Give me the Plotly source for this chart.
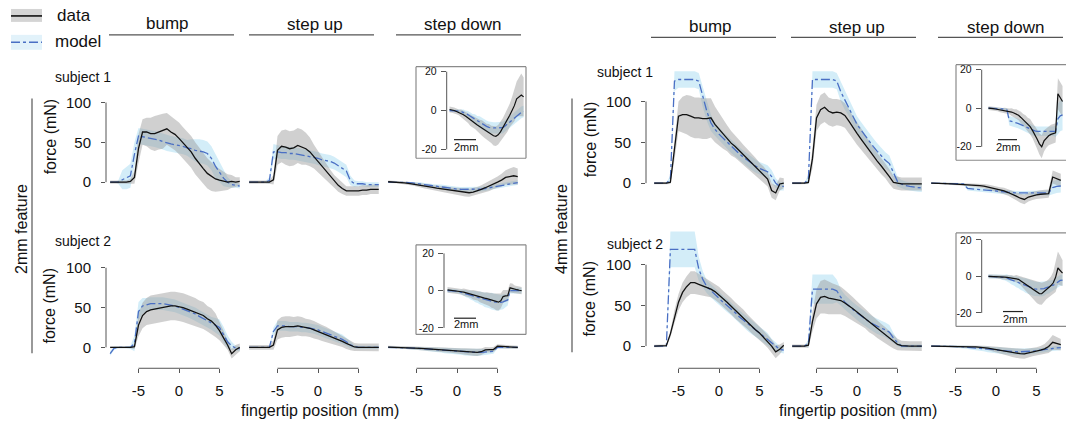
import plotly.graph_objects as go

W, H = 1075, 425

# ---------------- data ----------------
X_L = [-8.5, -8.0, -7.5, -7.0, -6.5, -6.0, -5.5, -5.0, -4.5, -4.0, -3.5, -3.0, -2.5, -2.0, -1.5, -1.0, -0.5,
       0.0, 0.5, 1.0, 1.5, 2.0, 2.5, 3.0, 3.5, 4.0, 4.5, 5.0, 5.5, 6.0, 6.5, 7.0, 7.5]
X_R = [-8.0, -7.5, -7.0, -6.5, -6.0, -5.5, -5.0, -4.5, -4.0, -3.5, -3.0, -2.5, -2.0, -1.5, -1.0, -0.5, 0.0,
       0.5, 1.0, 1.5, 2.0, 2.5, 3.0, 3.5, 4.0, 4.5, 5.0, 5.5, 6.0, 6.5, 7.0, 7.5, 8.0]

HEADERS = ["bump", "step up", "step down"]
FEATURES = ["2mm feature", "4mm feature"]
SUBJECTS = ["subject 1", "subject 2"]
X_TICKS = [-5, 0, 5]
X_TICK_TEXT = ["-5", "0", "5"]
Y_TICKS = [0, 50, 100]
INSET_TICKS = [-20, 0, 20]
INSET_TICK_TEXT = ["-20", "0", "20"]

# 2mm feature, subject 1
S1_2_BUMP = [0, 0, 0, 0, 0, 1, 6, 42, 63, 63, 61, 61, 63, 64, 67, 63, 60, 55, 49, 44, 38, 30, 23, 17, 11, 7, 4, 2.5, 1, 0, 1, 0, 1]
S1_2_BUMP_SD = [2, 2, 2, 2, 2, 3, 8, 18, 16, 18, 20, 22, 22, 22, 20, 20, 20, 20, 20, 20, 20, 20, 20, 19, 19, 18, 16, 14, 12, 10, 8, 6, 5]
S1_2_BUMP_M = [0, 0, 0, 3, 5, 8, 35, 58, 57, 56, 55, 54, 53, 51, 49, 48, 47, 46, 45, 43, 42, 40, 39, 38, 36, 30, 20, 12, 5, 0, -3, -4, -5]
S1_2_BUMP_MSD = [0, 0, 2, 12, 14, 15, 15, 10, 10, 10, 10, 10, 10, 10, 10, 10, 10, 10, 10, 10, 12, 14, 15, 15, 15, 15, 15, 12, 10, 6, 4, 3, 3]

S1_2_UP = [0, 0, 0, 0, 0, 0, 3, 40, 45, 44, 42, 43, 46, 44, 42, 38, 32, 26, 19, 13, 7, 1, -4, -8, -11, -11, -11, -11, -10, -10, -9, -9, -9]
S1_2_UP_SD = [2, 2, 2, 2, 2, 2, 6, 18, 20, 22, 22, 22, 22, 22, 20, 18, 15, 13, 12, 10, 9, 8, 8, 7, 6, 6, 6, 6, 6, 6, 6, 6, 6]
S1_2_UP_M = [0, 0, 0, 0, 0, 2, 38, 38, 37, 37, 36, 36, 35, 34, 33, 32, 31, 30, 28, 27, 26, 24, 21, 18, 14, 2, -2, -2, -2, -3, -3, -3, -3]
S1_2_UP_MSD = [0, 0, 0, 0, 1, 4, 10, 8, 8, 8, 8, 8, 8, 8, 8, 8, 8, 8, 8, 8, 8, 8, 8, 8, 8, 6, 4, 3, 3, 3, 3, 3, 3]

S1_2_DOWN = [0.5, 0.3, 0, -0.5, -1, -1.5, -2.2, -3, -4, -5, -5.8, -6.6, -7.5, -8.3, -9, -10, -10.8, -11.5, -12.3, -13, -13.3,
             -12.5, -11, -9, -7, -5, -2.5, 0, 2.5, 6, 7, 8, 7]
S1_2_DOWN_SD = [1.5, 1.5, 1.5, 1.5, 1.5, 2, 2, 2.5, 2.5, 3, 3, 3, 3.5, 3.5, 4, 4, 4, 4.5, 4.5, 5, 5, 5, 5, 5, 5.5, 6, 6, 7, 8, 9, 10, 11, 10]
S1_2_DOWN_M = [0, 0, 0, 0, -0.3, -0.5, -1, -1.5, -2.2, -3, -3.8, -4.5, -5.3, -6, -6.8, -7.5, -8.2, -8.7, -9, -9, -9, -9, -9,
               -8.8, -8, -7, -6, -4.8, -3.8, -3, -2, -1, -0.5]
S1_2_DOWN_MSD = [0.5, 0.5, 0.5, 0.5, 1, 1, 1.5, 1.5, 2, 2, 2, 2.5, 2.5, 3, 3, 3, 3, 3, 3, 3, 3, 3, 3, 3, 3, 3, 3, 3, 3, 3, 3, 3, 3]

# 2mm feature, subject 2
S2_2_BUMP = [0, 0, 0, 0, 0, 0, 1, 28, 40, 45, 47, 48, 49, 50, 51, 52, 52, 51, 50, 48, 46, 44, 42, 40, 36, 33, 28, 21, 12, 3, -8, -3, 0]
S2_2_BUMP_SD = [1, 1, 1, 1, 1, 1, 3, 14, 16, 17, 18, 18, 18, 18, 18, 18, 18, 18, 18, 18, 18, 18, 17, 17, 16, 16, 15, 12, 9, 6, 6, 6, 5]
S2_2_BUMP_M = [-8, -1, 0, 0, 0, 0, 5, 45, 52, 54, 55, 55, 55, 55, 54, 53, 52, 50, 48, 46, 44, 42, 39, 36, 33, 30, 28, 25, 16, 7, 2, -1, -2]
S2_2_BUMP_MSD = [3, 2, 1, 1, 1, 2, 10, 12, 10, 8, 8, 8, 8, 8, 8, 8, 8, 8, 8, 8, 8, 8, 8, 8, 8, 8, 9, 10, 10, 8, 5, 3, 3]

S2_2_UP = [0, 0, 0, 0, 0, 0, 3, 22, 25, 26, 26, 26, 27, 26, 25, 24, 22, 20, 18, 16, 14, 12, 10, 7.5, 5, 2.5, 0.5, 0, 0, 0, 0, 0, 0]
S2_2_UP_SD = [3, 3, 3, 3, 3, 3, 6, 12, 13, 13, 13, 12, 12, 12, 11, 11, 11, 10, 10, 10, 9, 9, 8, 7, 7, 6, 5, 5, 5, 5, 5, 5, 5]
S2_2_UP_M = [0, 0, 0, 0, 0, 0, 20, 27, 27, 27, 26, 26, 26, 25, 25, 24, 23, 22, 20, 18, 16, 14, 12, 10, 7, 3, 1, 0, 0, 0, 0, 0, 0]
S2_2_UP_MSD = [0, 0, 0, 0, 0, 1, 5, 6, 6, 6, 6, 6, 6, 6, 6, 6, 6, 6, 6, 6, 6, 6, 6, 6, 5, 4, 2, 2, 2, 2, 2, 2, 2]

S2_2_DOWN = [0.4, 0.3, 0, 0, -0.3, -0.5, -0.6, -0.8, -1.2, -1.5, -1.8, -2.2, -2.5, -2.8, -3.2, -3.6, -4, -4.3, -4.7, -5.2,
             -5.6, -6, -6.2, -5.5, -3.2, -2.8, -2.7, 1.5, 1.3, 0.8, 0.5, 0.2, 0]
S2_2_DOWN_SD = [1.5, 1.5, 1.5, 1.5, 1.5, 1.5, 1.5, 2, 2, 2, 2, 2.5, 2.5, 2.5, 3, 3, 3, 3.5, 3.5, 4, 4, 4.5, 4.5, 4, 3.5, 3, 3,
                2.5, 2.5, 2, 2, 2, 2]
S2_2_DOWN_M = [0, 0, 0, 0, -0.3, -0.6, -0.9, -1.2, -1.6, -2, -2.4, -2.8, -3.2, -3.6, -4, -4.4, -4.8, -5.1, -5.4, -5.7, -6,
               -6.2, -6.3, -6.3, -6, -5.5, -5, 0, 0, 0, 0, 0, 0]
S2_2_DOWN_MSD = [1, 1, 1, 1, 1, 1, 1.5, 1.5, 2, 2, 2.5, 2.5, 3, 3, 3.5, 3.5, 4, 4, 4, 4.5, 4.5, 4.5, 4.5, 4, 4, 3.5, 3,
                 1.5, 1.5, 1.5, 1.5, 1.5, 1.5]

# 4mm feature, subject 1
S1_4_BUMP = [0, 0, 0, 0, 1, 40, 82, 84, 84, 82, 80, 80, 79, 79, 80, 72, 66, 60, 55, 49, 45, 40, 35, 30, 25, 20, 15, 10.5, 5, -9, -12, -1, 0]
S1_4_BUMP_SD = [1.5, 1.5, 1.5, 1.5, 2, 12, 18, 22, 24, 25, 25, 25, 25, 25, 24, 22, 20, 18, 16, 15, 14, 13, 12, 12, 11, 11,
                10, 10, 9, 9, 9, 8, 6]
S1_4_BUMP_M = [0, 0, 0, 0, 5, 125, 127, 127, 127, 127, 127, 125, 105, 88, 74, 66, 60, 55, 50, 45, 40, 36, 32, 28, 24, 21,
               18, 16, 14, 8, 0, -4, -4]
S1_4_BUMP_MSD = [0, 0, 0, 0, 5, 12, 10, 10, 10, 10, 10, 10, 12, 12, 10, 8, 8, 8, 8, 8, 8, 8, 8, 8, 8, 8, 8, 8, 8, 8, 6, 5, 5]

S1_4_UP = [0, 0, 0, 0, 1, 30, 80, 90, 93, 88, 86, 87, 86, 83, 76, 68, 61, 54, 47, 40, 33, 27, 21, 15, 8, 1, 0, -1, -1, -1, -1, -1, -1]
S1_4_UP_SD = [1.5, 1.5, 1.5, 1.5, 2, 12, 16, 18, 18, 17, 17, 16, 16, 15, 15, 14, 14, 13, 12, 12, 11, 10, 10, 9, 9, 8, 8, 8,
              8, 8, 8, 8, 8]
S1_4_UP_M = [0, 0, 0, 0, 5, 127, 127, 127, 127, 127, 127, 125, 112, 102, 92, 81, 72, 65, 58, 51, 45, 39, 33, 28, 24, 12, 2,
             -1, -3, -4, -5, -5.5, -5.7]
S1_4_UP_MSD = [0, 0, 0, 0, 6, 10, 10, 10, 10, 10, 10, 10, 12, 12, 10, 10, 10, 10, 10, 10, 10, 10, 10, 10, 10, 8, 6, 5, 5, 5, 5, 5, 5]

S1_4_DOWN = [0, 0, -0.2, -0.4, -0.6, -0.9, -1.1, -1.3, -1.5, -1.7, -2, -2.5, -3, -3.7, -4.8, -6, -7.2, -8.4, -9.6, -11.5,
             -13.5, -16, -18.5, -20, -17, -15.5, -14.3, -13.6, -13.2, -12.8, 7.5, 5.5, 3.5]
S1_4_DOWN_SD = [1, 1, 1, 1, 1, 1.2, 1.2, 1.5, 1.5, 1.5, 2, 2, 2.5, 2.5, 3, 3, 3.5, 3.5, 4, 4, 4.5, 5, 5.5, 6, 5.5, 5, 5, 5,
                5, 5, 8, 8, 8]
S1_4_DOWN_M = [0, 0, 0, 0, -0.2, -0.3, -0.4, -0.5, -0.9, -6.5, -7, -7.3, -7.6, -8, -8.6, -9.2, -9.8, -10.4, -11, -11.5,
               -11.8, -12, -12, -12, -12, -12, -12, -12, -12, -12, -5.5, -4, -3.5]
S1_4_DOWN_MSD = [0.5, 0.5, 0.5, 0.5, 0.5, 0.5, 0.5, 0.5, 1, 2.5, 2.5, 2.5, 2.5, 2.5, 2.5, 2.5, 2.5, 2.5, 2.5, 2.5, 2.5, 2.5,
                 2.5, 2.5, 2.5, 2.5, 2.5, 2.5, 2.5, 3, 8, 8, 8]

# 4mm feature, subject 2
S2_4_BUMP = [0, 0, 0, 0.5, 15, 36, 54, 66, 73, 78, 78, 76, 74, 72, 70, 67, 63, 58, 54, 49, 44, 40, 35, 30, 25, 20, 16, 11, 6, 0, -7, -4, 1]
S2_4_BUMP_SD = [1.5, 1.5, 1.5, 1.5, 4, 8, 10, 12, 13, 14, 14, 13, 12, 11, 10, 10, 10, 10, 10, 10, 10, 10, 10, 9, 9, 9, 9,
                8, 8, 8, 8, 6, 4]
S2_4_BUMP_M = [0, 0, 0, 0, 119, 119, 119, 119, 119, 119, 119, 95, 82, 73, 68, 63, 59, 54, 50, 46, 41, 36, 32, 27, 23, 19,
               16, 12, 8, 3, -1, -4, -5]
S2_4_BUMP_MSD = [0, 0, 0, 1, 22, 22, 22, 22, 22, 22, 22, 15, 10, 8, 8, 8, 8, 8, 8, 8, 8, 8, 8, 8, 8, 8, 8, 8, 8, 6, 5, 4, 4]

S2_4_UP = [0, 0, 0, 0, 1, 30, 52, 60, 61, 59, 58, 57, 56, 53, 50, 46, 42, 38, 34, 29, 25, 21, 17, 13, 9, 5, 2, 0.5, 0, 0, 0, 0, 0]
S2_4_UP_SD = [2, 2, 2, 2, 3, 12, 18, 20, 21, 20, 19, 18, 17, 16, 15, 14, 13, 13, 12, 12, 11, 11, 10, 10, 9, 8, 7, 6, 6, 6, 6, 6, 6]
S2_4_UP_M = [0, 0, 0, 0, 3, 70, 70, 70, 70, 70, 70, 68, 60, 54, 49, 45, 41, 37, 33, 30, 27, 24, 22, 20, 17, 10, 4, 0, 0, 0, 0, 0, 0]
S2_4_UP_MSD = [0, 0, 0, 0, 5, 18, 18, 18, 18, 18, 18, 14, 10, 9, 9, 9, 9, 9, 9, 9, 9, 9, 9, 9, 9, 6, 4, 2, 2, 2, 2, 2, 2]

S2_4_DOWN = [0, 0, 0, 0, -0.1, -0.2, -0.3, -0.4, -0.5, -0.7, -0.9, -1.1, -1.3, -1.6, -2.5, -3.4, -4.3, -5, -6, -7, -7.9,
             -8.7, -9.4, -9.5, -8.5, -7.5, -6.5, -5, -3.5, -0.5, 4.6, 3.3, 1.8]
S2_4_DOWN_SD = [1, 1, 1, 1, 1, 1, 1, 1, 1.5, 1.5, 1.5, 1.5, 2, 2, 2.5, 3, 3.5, 4, 4.5, 5, 5.5, 6, 6, 6, 5.5, 5, 5, 5, 6, 8, 9, 8, 7]
S2_4_DOWN_M = [0, 0, 0, -0.1, -0.2, -0.3, -0.5, -0.6, -0.8, -1.5, -2, -2.5, -3, -3.5, -4, -4.5, -5, -5.5, -6, -6.5, -6.8,
               -7, -7, -7, -6.7, -6.2, -5.8, -5.3, -4.8, -4, -3, -2.2, -2]
S2_4_DOWN_MSD = [1, 1, 1, 1, 1, 1, 1.5, 1.5, 2, 2, 2.5, 2.5, 3, 3, 3.5, 3.5, 4, 4, 4, 4, 4, 4, 4, 4, 4, 3.5, 3.5, 3, 3, 3, 3, 3, 3]

# ---------------- geometry (pixels) ----------------
SX = 8.1
LEFT_COLS = [(106, 243, 179), (245, 382, 318), (384, 522, 457)]
RIGHT_COLS = [(646, 784, 719), (785, 923, 857), (925, 1068, 996)]
LEFT_ROWS = [(85, 205, 181, 0.8), (250, 368, 347, 0.8)]
RIGHT_ROWS = [(62, 205, 182, 0.82), (228, 368, 345.7, 0.817)]
ISX = 4.63
INSET_GEOM = [
    dict(xd=(446.7, 527), x0=488.9, yd=(66, 156), y0=109, sy=1.95, box=(416, 526, 65, 157), bar=(454, 476, 138.3), lab=(466, 146)),
    dict(xd=(444, 527), x0=486.9, yd=(245, 333), y0=290, sy=1.87, box=(416, 526, 244, 334), bar=(454, 476, 317.7), lab=(466, 324)),
    dict(xd=(981.7, 1066), x0=1025.5, yd=(64, 158), y0=106.7, sy=1.935, box=(956, 1066, 63, 159), bar=(998, 1017, 138.3), lab=(1008, 146)),
    dict(xd=(981.7, 1066), x0=1025.5, yd=(233, 325), y0=275.7, sy=1.835, box=(956, 1066, 232, 326), bar=(1003, 1023, 311), lab=(1015, 319)),
]

FONT = "Liberation Sans, Arial, Helvetica, sans-serif"
AX_COLOR = "#555555"
TXT = "#111111"
BLUE_BAND = "rgba(200,232,246,0.8)"
GRAY_BAND = "rgba(150,150,150,0.45)"
MODEL_COLOR = "#4a6fc4"
DATA_COLOR = "#111111"


def px(x):
    return x / W


def py(y):
    return 1 - y / H


def ids(n):
    return ("x" if n == 1 else f"x{n}"), ("y" if n == 1 else f"y{n}")


def key(n, a):
    return a if n == 1 else f"{a}{n}"


BASE = dict(showgrid=False, zeroline=False, showline=False, showticklabels=False, ticks="", fixedrange=True)

fig = go.Figure()
layout = {}
shapes = []
annotations = []


def add_curves(xa, ya, x, d, dsd, m, msd, dw=1.3):
    mhi = [a + b for a, b in zip(m, msd)]
    mlo = [a - b for a, b in zip(m, msd)]
    dhi = [a + b for a, b in zip(d, dsd)]
    dlo = [a - b for a, b in zip(d, dsd)]
    common = dict(xaxis=xa, yaxis=ya, hoverinfo="skip", showlegend=False)
    fig.add_trace(go.Scatter(x=x + x[::-1], y=mhi + mlo[::-1], fill="toself", fillcolor=BLUE_BAND,
                             mode="lines", line=dict(width=0, color="rgba(0,0,0,0)"), **common))
    fig.add_trace(go.Scatter(x=x + x[::-1], y=dhi + dlo[::-1], fill="toself", fillcolor=GRAY_BAND,
                             mode="lines", line=dict(width=0, color="rgba(0,0,0,0)"), **common))
    fig.add_trace(go.Scatter(x=x, y=m, mode="lines", line=dict(color=MODEL_COLOR, width=1.3, dash="dashdot"), **common))
    fig.add_trace(go.Scatter(x=x, y=d, mode="lines", line=dict(color=DATA_COLOR, width=dw), **common))


PANELS = [
    ("L", 0, 0, X_L, S1_2_BUMP, S1_2_BUMP_SD, S1_2_BUMP_M, S1_2_BUMP_MSD),
    ("L", 0, 1, X_L, S1_2_UP, S1_2_UP_SD, S1_2_UP_M, S1_2_UP_MSD),
    ("L", 0, 2, X_L, S1_2_DOWN, S1_2_DOWN_SD, S1_2_DOWN_M, S1_2_DOWN_MSD),
    ("L", 1, 0, X_L, S2_2_BUMP, S2_2_BUMP_SD, S2_2_BUMP_M, S2_2_BUMP_MSD),
    ("L", 1, 1, X_L, S2_2_UP, S2_2_UP_SD, S2_2_UP_M, S2_2_UP_MSD),
    ("L", 1, 2, X_L, S2_2_DOWN, S2_2_DOWN_SD, S2_2_DOWN_M, S2_2_DOWN_MSD),
    ("R", 0, 0, X_R, S1_4_BUMP, S1_4_BUMP_SD, S1_4_BUMP_M, S1_4_BUMP_MSD),
    ("R", 0, 1, X_R, S1_4_UP, S1_4_UP_SD, S1_4_UP_M, S1_4_UP_MSD),
    ("R", 0, 2, X_R, S1_4_DOWN, S1_4_DOWN_SD, S1_4_DOWN_M, S1_4_DOWN_MSD),
    ("R", 1, 0, X_R, S2_4_BUMP, S2_4_BUMP_SD, S2_4_BUMP_M, S2_4_BUMP_MSD),
    ("R", 1, 1, X_R, S2_4_UP, S2_4_UP_SD, S2_4_UP_M, S2_4_UP_MSD),
    ("R", 1, 2, X_R, S2_4_DOWN, S2_4_DOWN_SD, S2_4_DOWN_M, S2_4_DOWN_MSD),
]

n = 0
for side, r, c, x, d, dsd, m, msd in PANELS:
    n += 1
    cols = LEFT_COLS if side == "L" else RIGHT_COLS
    rows = LEFT_ROWS if side == "L" else RIGHT_ROWS
    xl, xr, x0 = cols[c]
    yt, yb, y0, sy = rows[r]
    xa, ya = ids(n)
    xax = dict(BASE, domain=[px(xl), px(xr)], range=[(xl - x0) / SX, (xr - x0) / SX], anchor=ya)
    yax = dict(BASE, domain=[py(yb), py(yt)], range=[(y0 - yb) / sy, (y0 - yt) / sy], anchor=xa)
    if r == 1:
        xax.update(showticklabels=True, ticks="outside", ticklen=4, tickwidth=1, tickcolor=AX_COLOR,
                   tickmode="array", tickvals=X_TICKS, ticktext=X_TICK_TEXT, ticklabelstandoff=5,
                   tickfont=dict(family=FONT, size=15, color=TXT))
        shapes.append(dict(type="line", xref=xa, yref="paper", x0=X_TICKS[0], x1=X_TICKS[-1],
                           y0=py(yb), y1=py(yb), line=dict(color=AX_COLOR, width=1)))
    if c == 0:
        yax.update(showticklabels=True, ticks="outside", ticklen=4, tickwidth=1, tickcolor=AX_COLOR,
                   tickmode="array", tickvals=Y_TICKS, ticklabelstandoff=7,
                   tickfont=dict(family=FONT, size=15, color=TXT))
        shapes.append(dict(type="line", xref="paper", yref=ya, x0=px(xl), x1=px(xl),
                           y0=Y_TICKS[0], y1=Y_TICKS[-1], line=dict(color=AX_COLOR, width=1)))
    layout[key(n, "xaxis")] = xax
    layout[key(n, "yaxis")] = yax
    add_curves(xa, ya, x, d, dsd, m, msd)

# insets (zoomed step-down curves)
INSETS = [
    (X_L, S1_2_DOWN, S1_2_DOWN_SD, S1_2_DOWN_M, S1_2_DOWN_MSD),
    (X_L, S2_2_DOWN, S2_2_DOWN_SD, S2_2_DOWN_M, S2_2_DOWN_MSD),
    (X_R, S1_4_DOWN, S1_4_DOWN_SD, S1_4_DOWN_M, S1_4_DOWN_MSD),
    (X_R, S2_4_DOWN, S2_4_DOWN_SD, S2_4_DOWN_M, S2_4_DOWN_MSD),
]
for g, (x, d, dsd, m, msd) in zip(INSET_GEOM, INSETS):
    n += 1
    xa, ya = ids(n)
    xl, xr = g["xd"]
    yt, yb = g["yd"]
    layout[key(n, "xaxis")] = dict(BASE, domain=[px(xl), px(xr)], range=[(xl - g["x0"]) / ISX, (xr - g["x0"]) / ISX], anchor=ya)
    layout[key(n, "yaxis")] = dict(BASE, domain=[py(yb), py(yt)],
                                   range=[(g["y0"] - yb) / g["sy"], (g["y0"] - yt) / g["sy"]], anchor=xa,
                                   showticklabels=True, ticks="outside", ticklen=5, tickwidth=1, tickcolor=AX_COLOR,
                                   tickmode="array", tickvals=INSET_TICKS, ticktext=INSET_TICK_TEXT,
                                   ticklabelstandoff=2, tickfont=dict(family=FONT, size=10.5, color=TXT))
    shapes.append(dict(type="line", xref="paper", yref=ya, x0=px(xl), x1=px(xl), y0=INSET_TICKS[0], y1=INSET_TICKS[-1],
                       line=dict(color=AX_COLOR, width=1)))
    bl, br, bt, bb = g["box"]
    for (ax0, ay0, ax1, ay1) in [(bl, bt, br, bt), (bl, bb, br, bb), (bl, bt, bl, bb)] + ([(br, bt, br, bb)] if br < 1060 else []):
        shapes.append(dict(type="line", xref="paper", yref="paper", x0=px(ax0), y0=py(ay0), x1=px(ax1), y1=py(ay1),
                           line=dict(color="#8a8a8a", width=1.2)))
    b0, b1, by = g["bar"]
    shapes.append(dict(type="line", xref="paper", yref="paper", x0=px(b0), x1=px(b1), y0=py(by), y1=py(by),
                       line=dict(color="#222", width=1.2)))
    annotations.append(dict(text="2mm", x=px(g["lab"][0]), y=py(g["lab"][1]), xref="paper", yref="paper",
                            showarrow=False, xanchor="center", yanchor="middle",
                            font=dict(family=FONT, size=11, color=TXT)))
    add_curves(xa, ya, x, d, dsd, m, msd, dw=1.2)


def text(t, x, y, size, xanchor="center", angle=0):
    annotations.append(dict(text=t, x=px(x), y=py(y), xref="paper", yref="paper", showarrow=False,
                            xanchor=xanchor, yanchor="middle", textangle=angle,
                            font=dict(family=FONT, size=size, color=TXT)))


def hline(x0, x1, y, color=AX_COLOR, width=1.2, dash=None):
    ln = dict(color=color, width=width)
    if dash:
        ln["dash"] = dash
    shapes.append(dict(type="line", xref="paper", yref="paper", x0=px(x0), x1=px(x1), y0=py(y), y1=py(y), line=ln))


# legend
shapes.append(dict(type="rect", xref="paper", yref="paper", x0=px(11), x1=px(42), y0=py(20), y1=py(7),
                   fillcolor="#d4d4d4", line=dict(width=0)))
hline(11, 42, 14, color="#111", width=1.6)
shapes.append(dict(type="rect", xref="paper", yref="paper", x0=px(11), x1=px(42), y0=py(48), y1=py(33),
                   fillcolor="#e2f2fa", line=dict(width=0)))
hline(11, 42, 40.5, color=MODEL_COLOR, width=1.4, dash="dashdot")
text("data", 55, 14, 17, xanchor="left")
text("model", 53, 40, 17, xanchor="left")

# column headers
HEAD_POS = [[(167, 22, 109, 234, 33), (315, 23, 249, 374, 33), (463, 23, 396, 521, 33)],
            [(710, 25, 651, 776, 35.5), (857, 25.5, 791, 916, 35.5), (1006, 26, 938, 1063, 35.5)]]
for half in HEAD_POS:
    for label, (tx, ty, l0, l1, ly) in zip(HEADERS, half):
        text(label, tx, ty, 17)
        hline(l0, l1, ly, width=1.3)

# subject labels
text(SUBJECTS[0], 53, 75, 14, xanchor="left")
text(SUBJECTS[1], 53, 240, 14, xanchor="left")
text(SUBJECTS[0], 595, 70, 14, xanchor="left")
text(SUBJECTS[1], 605, 243, 14, xanchor="left")

# y titles
for (tx, ty) in [(50, 135), (50, 305), (590, 138), (590, 298)]:
    text("force (mN)", tx, ty, 16, angle=-90)

# feature labels with vertical rules
text(FEATURES[0], 22, 228, 16, angle=-90)
text(FEATURES[1], 562, 228, 16, angle=-90)
shapes.append(dict(type="line", xref="paper", yref="paper", x0=px(32), x1=px(32), y0=py(97), y1=py(353),
                   line=dict(color=AX_COLOR, width=1.2)))
shapes.append(dict(type="line", xref="paper", yref="paper", x0=px(572), x1=px(572), y0=py(97), y1=py(352),
                   line=dict(color=AX_COLOR, width=1.2)))

# x titles
text("fingertip position (mm)", 320, 410, 16)
text("fingertip position (mm)", 858, 410, 16)

layout.update(width=W, height=H, margin=dict(l=0, r=0, t=0, b=0), paper_bgcolor="white",
              plot_bgcolor="rgba(0,0,0,0)", showlegend=False, shapes=shapes, annotations=annotations,
              font=dict(family=FONT, color=TXT))
fig.update_layout(**layout)
fig.write_html("out.html", config={"displayModeBar": False, "staticPlot": True},
               post_script="document.body.style.margin='0';")
